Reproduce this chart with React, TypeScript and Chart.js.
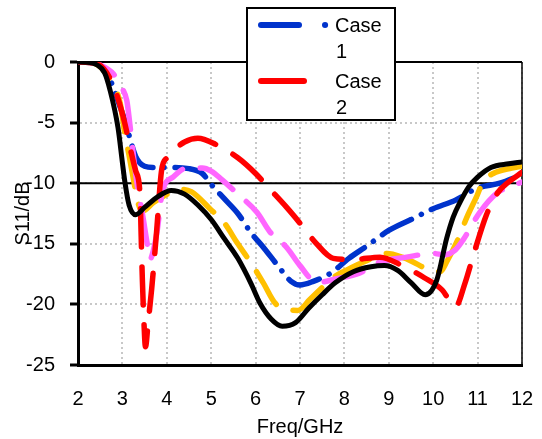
import React, { useEffect, useRef } from "react";
import { Chart, registerables } from "chart.js";

Chart.register(...registerables);

// ---- data ----
const freqCase1 = [2, 2.4, 2.7, 2.9, 3.05, 3.13, 3.3, 3.5, 3.7, 4.0, 4.5, 4.8, 5.0, 5.3, 5.6, 5.9, 6.2, 6.5, 6.8, 7.0, 7.3, 7.7, 8.1, 8.5, 9.0, 9.5, 10.0, 10.5, 11.0, 11.5, 12];
const s11Case1 = [0, -0.1, -1.3, -3.2, -4.8, -5.8, -7.8, -8.6, -8.7, -8.7, -8.8, -9.2, -10.1, -11.3, -12.5, -14.1, -15.4, -16.8, -18.1, -18.4, -18.1, -17.4, -16.2, -15.2, -13.9, -13.0, -12.1, -11.4, -10.4, -10.0, -9.3];

const freqCase2 = [2, 2.4, 2.7, 2.9, 3.05, 3.2, 3.3, 3.4, 3.42, 3.45, 3.48, 3.52, 3.58, 3.66, 3.77, 3.88, 4.0, 4.15, 4.4, 4.7, 5.1, 5.6, 6.0, 6.3, 6.7, 7.0, 7.35, 7.75, 8.2, 8.8, 9.3, 9.8, 10.2, 10.5, 10.72, 10.9, 11.2, 11.45, 11.7, 12];
const s11Case2 = [0, -0.1, -1.2, -3.0, -5, -7.5, -9.0, -11.1, -14, -18, -21, -23.5, -21.5, -18.7, -14, -9.0, -7.9, -7.3, -6.6, -6.3, -6.8, -7.9, -9.2, -10.4, -12, -13.3, -14.9, -16.2, -16.3, -16.1, -16.8, -17.8, -18.8, -20.2, -18.2, -16.0, -12.6, -10.8, -9.9, -9.1];

const freqOrange = [2, 2.3, 2.5, 2.7, 2.95, 3.05, 3.15, 3.25, 3.35, 3.45, 3.7, 4.07, 4.3, 4.55, 4.97, 5.3, 5.58, 5.9, 6.17, 6.44, 6.7, 6.95, 7.22, 7.5, 7.74, 8.2, 8.62, 8.96, 9.3, 9.6, 9.93, 10.15, 10.33, 10.55, 10.76, 10.99, 11.12, 11.35, 11.77, 12];
const s11Orange = [0, -0.05, -0.4, -1.4, -3.4, -5.8, -7.7, -9.7, -11.6, -12.3, -11.6, -10.8, -10.5, -10.7, -12.1, -13.3, -14.9, -16.6, -18.2, -19.9, -20.4, -20.5, -19.6, -18.6, -17.8, -16.9, -16.2, -15.8, -16.1, -16.6, -17.2, -17.3, -16.3, -14.7, -12.8, -11.0, -9.9, -9.2, -8.75, -8.6];

const freqPink = [2, 2.3, 2.5, 2.8, 3.0, 3.1, 3.17, 3.28, 3.35, 3.45, 3.55, 3.62, 3.7, 3.78, 3.9, 4.14, 4.45, 4.8, 5.0, 5.24, 5.6, 6.03, 6.32, 6.7, 7.0, 7.38, 7.8, 8.35, 8.8, 9.4, 10.0, 10.25, 10.5, 10.67, 11.05, 11.44, 11.73, 12];
const s11Pink = [0, -0.05, -0.25, -1.0, -2.2, -3.2, -5.2, -8.7, -10.5, -12.5, -14.8, -16.3, -15.5, -14, -10.7, -9.5, -8.75, -8.75, -9.0, -9.7, -10.9, -12.4, -14, -15.3, -16.8, -18.2, -17.9, -17.4, -16.5, -16.1, -15.8, -15.9, -15.5, -14.7, -12.4, -10.8, -10.3, -9.9];

const freqBlack = [2, 2.2, 2.43, 2.6, 2.72, 2.9, 3.0, 3.06, 3.15, 3.3, 3.5, 3.8, 4.1, 4.4, 4.7, 5.0, 5.3, 5.6, 5.9, 6.1, 6.35, 6.6, 6.9, 7.2, 7.5, 7.8, 8.2, 8.6, 8.9, 9.2, 9.5, 9.82, 10.08, 10.3, 10.45, 10.6, 10.8, 11.0, 11.3, 11.7, 12];
const s11Black = [0, -0.02, -0.25, -0.9, -2.3, -5.4, -8.3, -10, -11.8, -12.6, -12, -11.1, -10.6, -10.9, -11.8, -13, -14.6, -16.2, -18.3, -19.9, -21.2, -21.8, -21.5, -20.3, -19.2, -18.2, -17.3, -16.9, -16.8, -17.2, -18.2, -19.2, -18, -14.6, -12.8, -11.6, -10.3, -9.5, -8.7, -8.4, -8.25];

const refFreq = [2, 12];
const refS11 = [-10, -10];

const legendLabels = ["Case 1", "Case 2"];
const xTitle = "Freq/GHz";
const yTitle = "S11/dB";

const FONT = "'Liberation Sans', Arial, sans-serif";

const pts = (f: number[], v: number[]) => f.map((x, i) => ({ x, y: v[i] }));

const framePlugin = {
  id: "frame",
  beforeDatasetsDraw(chart: any) {
    const { ctx, chartArea: a } = chart;
    ctx.save();
    ctx.strokeStyle = "#000";
    ctx.lineWidth = 2;
    ctx.beginPath();
    ctx.moveTo(a.left, a.top);
    ctx.lineTo(a.right, a.top);
    ctx.stroke();
    ctx.lineWidth = 1.5;
    ctx.beginPath();
    ctx.moveTo(a.right, a.top);
    ctx.lineTo(a.right, a.bottom);
    ctx.stroke();
    ctx.restore();
  },
};

const legendPlugin = {
  id: "boxLegend",
  afterDraw(chart: any) {
    const { ctx } = chart;
    const ds = chart.data.datasets;
    ctx.save();
    ctx.fillStyle = "#fff";
    ctx.fillRect(247, 8, 148, 112);
    ctx.strokeStyle = "#000";
    ctx.lineWidth = 2;
    ctx.strokeRect(247, 8, 148, 112);
    ctx.lineCap = "round";
    ctx.strokeStyle = ds[0].borderColor;
    ctx.lineWidth = 6;
    ctx.beginPath();
    ctx.moveTo(261, 25);
    ctx.lineTo(299, 25);
    ctx.stroke();
    ctx.beginPath();
    ctx.moveTo(325, 25);
    ctx.lineTo(325.1, 25);
    ctx.stroke();
    ctx.strokeStyle = ds[1].borderColor;
    ctx.beginPath();
    ctx.moveTo(261, 81);
    ctx.lineTo(304, 81);
    ctx.stroke();
    ctx.fillStyle = "#000";
    ctx.font = `20px ${FONT}`;
    ctx.textBaseline = "middle";
    ctx.textAlign = "left";
    const l1 = legendLabels[0].split(" ");
    const l2 = legendLabels[1].split(" ");
    ctx.fillText(l1[0], 335, 26);
    ctx.fillText(l1[1], 336, 52);
    ctx.fillText(l2[0], 335, 82);
    ctx.fillText(l2[1], 336, 108);
    ctx.restore();
  },
};

export default function App() {
  const ref = useRef<HTMLCanvasElement | null>(null);
  useEffect(() => {
    if (!ref.current) return;
    const common = {
      pointRadius: 0,
      borderCapStyle: "round",
      borderJoinStyle: "round",
      cubicInterpolationMode: "monotone",
      fill: false,
    };
    const chart = new Chart(ref.current, {
      type: "line",
      data: {
        datasets: [
          { ...common, label: legendLabels[0], data: pts(freqCase1, s11Case1), borderColor: "#0033cc", borderWidth: 5.5, borderDash: [33, 11, 0.1, 11], order: 4 },
          { ...common, label: legendLabels[1], data: pts(freqCase2, s11Case2), borderColor: "#ff0000", borderWidth: 5.5, borderDash: [38, 20], order: 1 },
          { ...common, label: "orange", data: pts(freqOrange, s11Orange), borderColor: "#ffc000", borderWidth: 5.5, borderDash: [38, 18], order: 3 },
          { ...common, label: "pink", data: pts(freqPink, s11Pink), borderColor: "#ff66ff", borderWidth: 5.5, borderDash: [40, 18], order: 2 },
          { ...common, label: "black", data: pts(freqBlack, s11Black), borderColor: "#000000", borderWidth: 5, order: 0 },
          { ...common, label: "ref", data: pts(refFreq, refS11), borderColor: "#000000", borderWidth: 2, cubicInterpolationMode: "default", tension: 0, order: 10 },
        ] as any,
      },
      options: {
        responsive: false,
        animation: false,
        layout: { padding: { left: 0, right: 20, top: 62, bottom: 0 } },
        plugins: { legend: { display: false }, tooltip: { enabled: false } },
        scales: {
          x: {
            type: "linear",
            min: 2,
            max: 12,
            afterFit: (s: any) => { s.height = 74; s.paddingLeft = 0; s.paddingRight = 0; },
            ticks: { stepSize: 1, color: "#000", padding: 22, font: { family: FONT, size: 20 } },
            grid: { color: "#c8c8c8", lineWidth: 2, drawTicks: false },
            border: { color: "#000", width: 3, dash: [2, 3] },
            title: { display: true, text: xTitle, color: "#000", font: { family: FONT, size: 20 }, padding: { top: 0, bottom: 0 } },
          },
          y: {
            type: "linear",
            min: -25,
            max: 0,
            afterFit: (s: any) => { s.width = 78; s.paddingTop = 0; s.paddingBottom = 0; },
            ticks: { stepSize: 5, color: "#000", padding: 15, font: { family: FONT, size: 20 } },
            grid: { color: "#c8c8c8", lineWidth: 2, drawTicks: true, tickLength: 8, tickColor: "#000", tickWidth: 3, tickBorderDash: [] },
            border: { color: "#000", width: 3, dash: [2, 3] },
            title: { display: true, text: yTitle, color: "#000", font: { family: FONT, size: 20 }, padding: { top: 11, bottom: 0 } },
          },
        },
      } as any,
      plugins: [framePlugin, legendPlugin],
    });
    return () => chart.destroy();
  }, []);
  return (
    <div style={{ position: "absolute", left: 0, top: 0, width: 542, height: 439, background: "#fff" }}>
      <canvas ref={ref} width={542} height={439} style={{ display: "block" }} />
    </div>
  );
}
